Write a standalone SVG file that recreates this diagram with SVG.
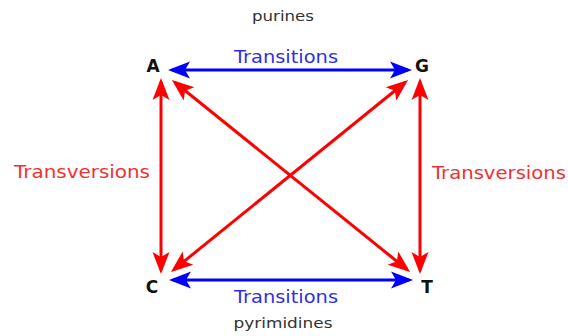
<svg xmlns="http://www.w3.org/2000/svg" width="568" height="336" viewBox="0 0 568 336">
<style>
.base{font-family:"DejaVu Sans",sans-serif;font-weight:bold;font-size:17px;fill:#111;text-anchor:middle}
.cap{font-family:"DejaVu Sans",sans-serif;font-size:13.5px;fill:#333;text-anchor:middle}
.ts{font-family:"DejaVu Sans",sans-serif;font-size:17.5px;fill:#3030e0;text-anchor:middle}
.tv{font-family:"DejaVu Sans",sans-serif;font-size:18px;fill:#f03030;text-anchor:middle}
.blue{stroke:#0000ff;stroke-width:3;fill:none;marker-start:url(#hb);marker-end:url(#hb)}
.red{stroke:#ff0000;stroke-width:3;fill:none;marker-start:url(#hr);marker-end:url(#hr)}
</style>
<defs>
<marker id="hb" markerUnits="userSpaceOnUse" viewBox="-20 -10 26 20" refX="0" refY="0" markerWidth="26" markerHeight="20" orient="auto-start-reverse" overflow="visible">
<path d="M4,0 L-18,-8.5 L-13,0 L-18,8.5 Z" fill="#0000ff"/>
</marker>
<marker id="hr" markerUnits="userSpaceOnUse" viewBox="-20 -10 26 20" refX="0" refY="0" markerWidth="26" markerHeight="20" orient="auto-start-reverse" overflow="visible">
<path d="M4,0 L-18,-8.5 L-13,0 L-18,8.5 Z" fill="#ff0000"/>
</marker>
</defs>
<g id="connectors">
<line class="blue" x1="172" y1="70" x2="408" y2="70"/>
<line class="blue" x1="173" y1="280" x2="409" y2="280"/>
<line class="red" x1="161" y1="82" x2="161" y2="270"/>
<line class="red" x1="420" y1="82" x2="420" y2="270"/>
<line class="red" x1="175" y1="82.5" x2="407" y2="269.5"/>
<line class="red" x1="405" y1="82.5" x2="174" y2="269.5"/>
</g>
<g id="labels">
<text class="cap" x="283" y="21" textLength="62" lengthAdjust="spacingAndGlyphs">purines</text>
<text class="cap" x="283" y="328" font-size="14.5" textLength="99" lengthAdjust="spacingAndGlyphs">pyrimidines</text>
<text class="ts" x="286" y="63" textLength="104" lengthAdjust="spacingAndGlyphs">Transitions</text>
<text class="ts" x="286" y="303" textLength="104" lengthAdjust="spacingAndGlyphs">Transitions</text>
<text class="tv" x="82" y="178" textLength="136" lengthAdjust="spacingAndGlyphs">Transversions</text>
<text class="tv" x="499" y="179" textLength="134" lengthAdjust="spacingAndGlyphs">Transversions</text>
</g>
<g id="node-A"><text class="base" x="153" y="72">A</text></g>
<g id="node-G"><text class="base" x="422" y="72">G</text></g>
<g id="node-C"><text class="base" x="152" y="293">C</text></g>
<g id="node-T"><text class="base" x="427" y="293">T</text></g>
</svg>
